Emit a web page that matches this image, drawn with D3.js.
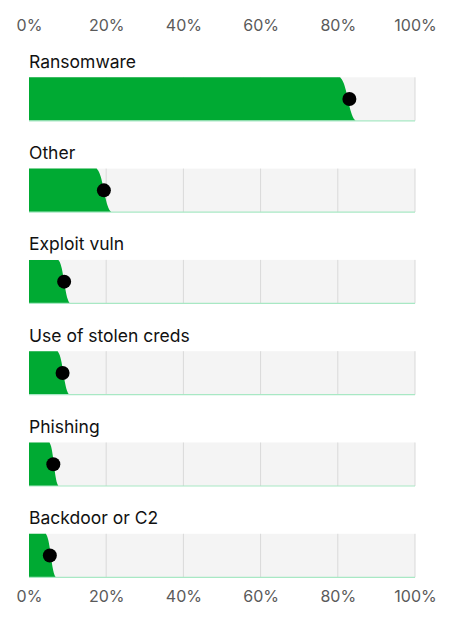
<!DOCTYPE html>
<html>
<head>
<meta charset="utf-8">
<script src="https://cdn.jsdelivr.net/npm/d3@7"></script>
<style>
  body { margin: 0; background: #fff; }
  text { font-family: Inter, "Helvetica Neue", Arial, sans-serif; }
</style>
</head>
<body>
<div id="chart"></div>
<script>
const categories = ["Ransomware", "Other", "Exploit vuln", "Use of stolen creds", "Phishing", "Backdoor or C2"];
const estimates = [0.830, 0.194, 0.091, 0.087, 0.063, 0.054];
const lowers    = [0.811, 0.180, 0.080, 0.078, 0.056, 0.047];
const uppers    = [0.841, 0.208, 0.102, 0.100, 0.073, 0.066];
const tickValues = [0, 0.2, 0.4, 0.6, 0.8, 1];

const width = 456, height = 624;
const margin = { left: 29, right: 41 };
const rowStep = 91.3, firstTop = 77.3, panelH = 43.5;

const svg = d3.select("#chart").append("svg")
  .attr("width", width)
  .attr("height", height);

const x = d3.scaleLinear().domain([0, 1]).range([margin.left, width - margin.right]);
const y = d3.scaleBand().domain(categories)
  .range([firstTop, firstTop + rowStep * categories.length])
  .paddingInner(0).paddingOuter(0);

// axes top + bottom
const fmt = d3.format(".0%");
[[25.5, d3.axisTop], [596.5, d3.axisBottom]].forEach(([yy, ax]) => {
  const g = svg.append("g")
    .attr("transform", `translate(0,${yy})`)
    .call(ax(x).tickValues(tickValues).tickFormat(fmt).tickSize(0).tickPadding(0));
  g.select(".domain").remove();
  g.selectAll("text")
    .attr("dy", "0.35em")
    .attr("y", 0)
    .attr("fill", "#5a5a5a")
    .attr("font-size", 16);
});

// quantile-like right edge of each green slab
const logit = p => Math.log(p / (1 - p));
const zref = logit(0.9);

categories.forEach((cat, i) => {
  const top = y(cat);
  const g = svg.append("g");

  g.append("text")
    .attr("x", x(0))
    .attr("y", top - 9.5)
    .attr("font-size", 17.5)
    .attr("fill", "#111")
    .text(cat);

  g.append("rect")
    .attr("x", x(0))
    .attr("y", top)
    .attr("width", x(1) - x(0))
    .attr("height", panelH)
    .attr("fill", "#f4f4f4");

  g.selectAll("line.grid")
    .data(tickValues.slice(1))
    .join("line")
    .attr("class", "grid")
    .attr("x1", d => x(d)).attr("x2", d => x(d))
    .attr("y1", top).attr("y2", top + panelH)
    .attr("stroke", "#d9d9d9")
    .attr("stroke-width", 1);

  const mid = (lowers[i] + uppers[i]) / 2;
  const half = (uppers[i] - lowers[i]) / 2;
  const ts = d3.range(0, 1.0001, 0.05);
  const edge = ts.map(t => {
    const p = 0.05 + 0.9 * t;
    return [x(Math.max(0, mid + half * logit(p) / zref)), top + t * panelH];
  });
  const pts = [[x(0), top]].concat(edge, [[x(0), top + panelH]]);
  g.append("path")
    .attr("d", d3.line()(pts) + "Z")
    .attr("fill", "#00aa33");

  g.append("line")
    .attr("x1", x(0)).attr("x2", x(1))
    .attr("y1", top + panelH).attr("y2", top + panelH)
    .attr("stroke", "#a8e8c4")
    .attr("stroke-width", 1.2);

  g.append("circle")
    .attr("cx", x(estimates[i]))
    .attr("cy", top + panelH / 2)
    .attr("r", 7)
    .attr("fill", "#000");
});
</script>
</body>
</html>
